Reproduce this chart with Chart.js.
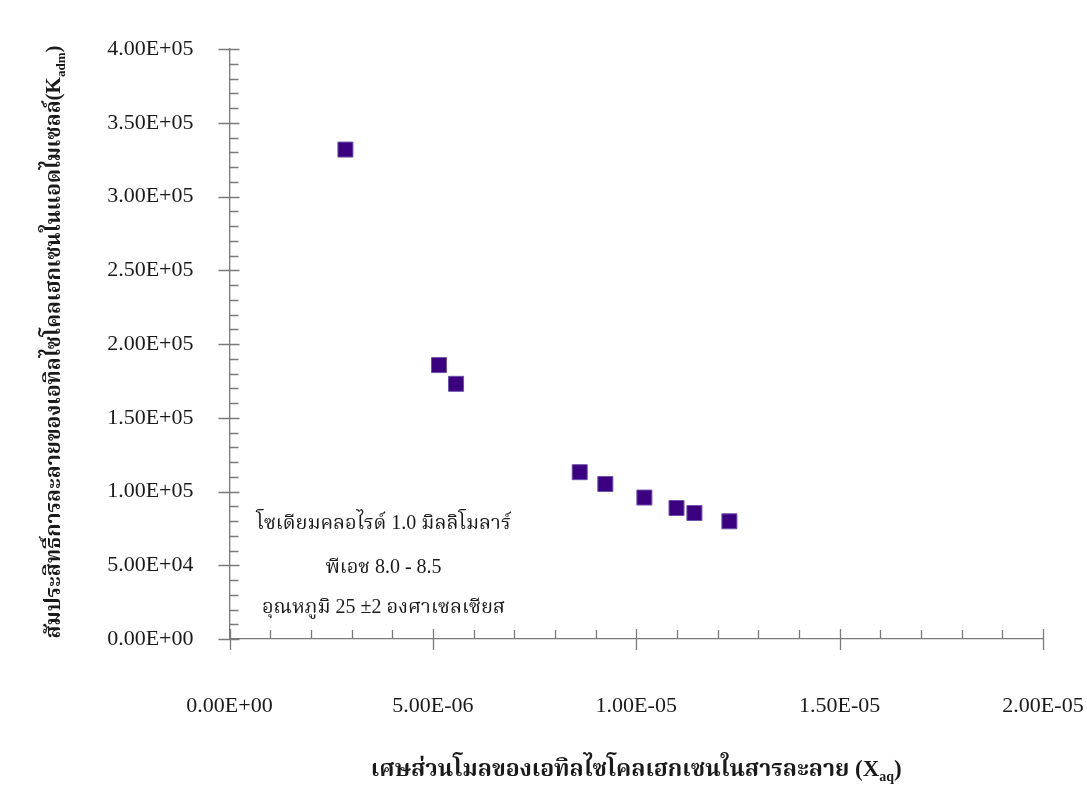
<!DOCTYPE html>
<html>
<head>
<meta charset="utf-8">
<script src="https://cdn.jsdelivr.net/npm/chart.js@4/dist/chart.umd.min.js"></script>
<style>
  html, body { margin: 0; padding: 0; background: #ffffff; }
  #wrap { width: 1087px; height: 807px; position: relative; }
</style>
</head>
<body>
<div id="wrap"><canvas id="c" width="1087" height="807"></canvas></div>
<script>
// ---- data ----
const xValues = [2.85e-6, 5.15e-6, 5.57e-6, 8.61e-6, 9.24e-6, 1.020e-5, 1.099e-5, 1.143e-5, 1.229e-5];
const yValues = [3.318e5, 1.857e5, 1.730e5, 1.131e5, 1.051e5, 9.59e4, 8.88e4, 8.54e4, 7.98e4];
const xTickLabels = ['0.00E+00', '5.00E-06', '1.00E-05', '1.50E-05', '2.00E-05'];
const yTickLabels = ['0.00E+00', '5.00E+04', '1.00E+05', '1.50E+05', '2.00E+05', '2.50E+05', '3.00E+05', '3.50E+05', '4.00E+05'];
const xTitleMain = 'เศษส่วนโมลของเอทิลไซโคลเฮกเซนในสารละลาย (X';
const xTitleSub = 'aq';
const yTitleMain = 'สัมประสิทธิ์การละลายของเอทิลไซโคลเฮกเซนในแอดไมเซลล์(K';
const yTitleSub = 'adm';
const noteLines = ['โซเดียมคลอไรด์ 1.0 มิลลิโมลาร์', 'พีเอช 8.0 - 8.5', 'อุณหภูมิ 25 ±2 องศาเซลเซียส'];

const X_MIN = 0, X_MAX = 2e-5, X_STEP = 5e-6, X_MINOR = 1e-6;
const Y_MIN = 0, Y_MAX = 4e5, Y_STEP = 5e4, Y_MINOR = 1e4;

const SERIF = '"Liberation Serif", "Noto Serif Thai", "Noto Sans Thai", "Tlwg Typo", Garuda, Loma, Norasi, serif';
const TEXT = '#1a1a1a';
const AXIS = '#7a7a7a';

const pts = xValues.map((x, i) => ({ x: x, y: yValues[i] }));

function drawSubText(ctx, main, sub, size, cx, cy) {
  const subSize = Math.round(size * 0.62);
  ctx.font = 'bold ' + size + 'px ' + SERIF;
  const w1 = ctx.measureText(main).width;
  ctx.font = 'bold ' + subSize + 'px ' + SERIF;
  const w2 = ctx.measureText(sub).width;
  ctx.font = 'bold ' + size + 'px ' + SERIF;
  const w3 = ctx.measureText(')').width;
  const total = w1 + w2 + w3;
  let x = cx - total / 2;
  ctx.textAlign = 'left';
  ctx.textBaseline = 'middle';
  ctx.fillText(main, x, cy);
  x += w1;
  ctx.font = 'bold ' + subSize + 'px ' + SERIF;
  ctx.fillText(sub, x, cy + size * 0.32);
  x += w2;
  ctx.font = 'bold ' + size + 'px ' + SERIF;
  ctx.fillText(')', x, cy);
}

const ticksPlugin = {
  id: 'excelTicks',
  beforeDatasetsDraw(chart) {
    const ctx = chart.ctx;
    const xs = chart.scales.x, ys = chart.scales.y;
    const ca = chart.chartArea;
    ctx.save();
    ctx.strokeStyle = AXIS;
    ctx.lineWidth = 1.3;
    ctx.beginPath();
    const nx = Math.round((X_MAX - X_MIN) / X_MINOR);
    for (let i = 0; i <= nx; i++) {
      const px = Math.round(xs.getPixelForValue(X_MIN + i * X_MINOR)) + 0.5;
      if (i % 5 === 0) { ctx.moveTo(px, ca.bottom - 10); ctx.lineTo(px, ca.bottom + 11); }
      else { ctx.moveTo(px, ca.bottom - 9); ctx.lineTo(px, ca.bottom); }
    }
    const ny = Math.round((Y_MAX - Y_MIN) / Y_MINOR);
    for (let i = 0; i <= ny; i++) {
      const py = Math.round(ys.getPixelForValue(Y_MIN + i * Y_MINOR)) + 0.5;
      if (i % 5 === 0) { ctx.moveTo(ca.left - 11, py); ctx.lineTo(ca.left + 10, py); }
      else { ctx.moveTo(ca.left, py); ctx.lineTo(ca.left + 9, py); }
    }
    ctx.stroke();
    ctx.restore();
  },
  afterDraw(chart) {
    const ctx = chart.ctx;
    const ca = chart.chartArea;
    ctx.save();
    ctx.fillStyle = TEXT;
    // x axis title
    drawSubText(ctx, xTitleMain, xTitleSub, 23, (ca.left + ca.right) / 2, 770);
    // y axis title (rotated)
    ctx.save();
    ctx.translate(55, (ca.top + ca.bottom) / 2 - 2);
    ctx.rotate(-Math.PI / 2);
    drawSubText(ctx, yTitleMain, yTitleSub, 21, 0, 0);
    ctx.restore();
    // annotation
    ctx.font = '20px ' + SERIF;
    ctx.textAlign = 'center';
    ctx.textBaseline = 'middle';
    const cx = ca.left + 154;
    const offs = [-115, -71, -31];
    noteLines.forEach((t, i) => ctx.fillText(t, cx, ca.bottom + offs[i]));
    ctx.restore();
  }
};

new Chart(document.getElementById('c'), {
  type: 'scatter',
  data: {
    datasets: [{
      data: pts,
      pointStyle: 'rect',
      pointRadius: 10.6,
      pointHoverRadius: 10.6,
      backgroundColor: '#3a007f',
      borderColor: '#6d50aa',
      borderWidth: 1
    }]
  },
  options: {
    responsive: false,
    animation: false,
    events: [],
    layout: { padding: { left: 0, top: 49, right: 44, bottom: 0 } },
    plugins: { legend: { display: false }, tooltip: { enabled: false } },
    scales: {
      x: {
        type: 'linear',
        min: X_MIN, max: X_MAX,
        afterFit(s) { s.height = 168; s.paddingLeft = 0; s.paddingRight = 0; },
        afterBuildTicks(s) { s.ticks = xTickLabels.map((_, i) => ({ value: X_MIN + i * X_STEP })); },
        grid: { display: false, drawTicks: false },
        border: { display: true, color: AXIS, width: 1.3 },
        ticks: {
          padding: 54,
          maxRotation: 0,
          color: TEXT,
          font: { family: SERIF, size: 22 },
          callback: (v, i) => xTickLabels[i]
        }
      },
      y: {
        type: 'linear',
        min: Y_MIN, max: Y_MAX,
        afterFit(s) { s.width = 229.5; s.paddingTop = 0; s.paddingBottom = 0; },
        afterBuildTicks(s) { s.ticks = yTickLabels.map((_, i) => ({ value: Y_MIN + i * Y_STEP })); },
        grid: { display: false, drawTicks: false },
        border: { display: true, color: AXIS, width: 1.3 },
        ticks: {
          padding: 36,
          color: TEXT,
          font: { family: SERIF, size: 22 },
          callback: (v, i) => yTickLabels[i]
        }
      }
    }
  },
  plugins: [ticksPlugin]
});
</script>
</body>
</html>
